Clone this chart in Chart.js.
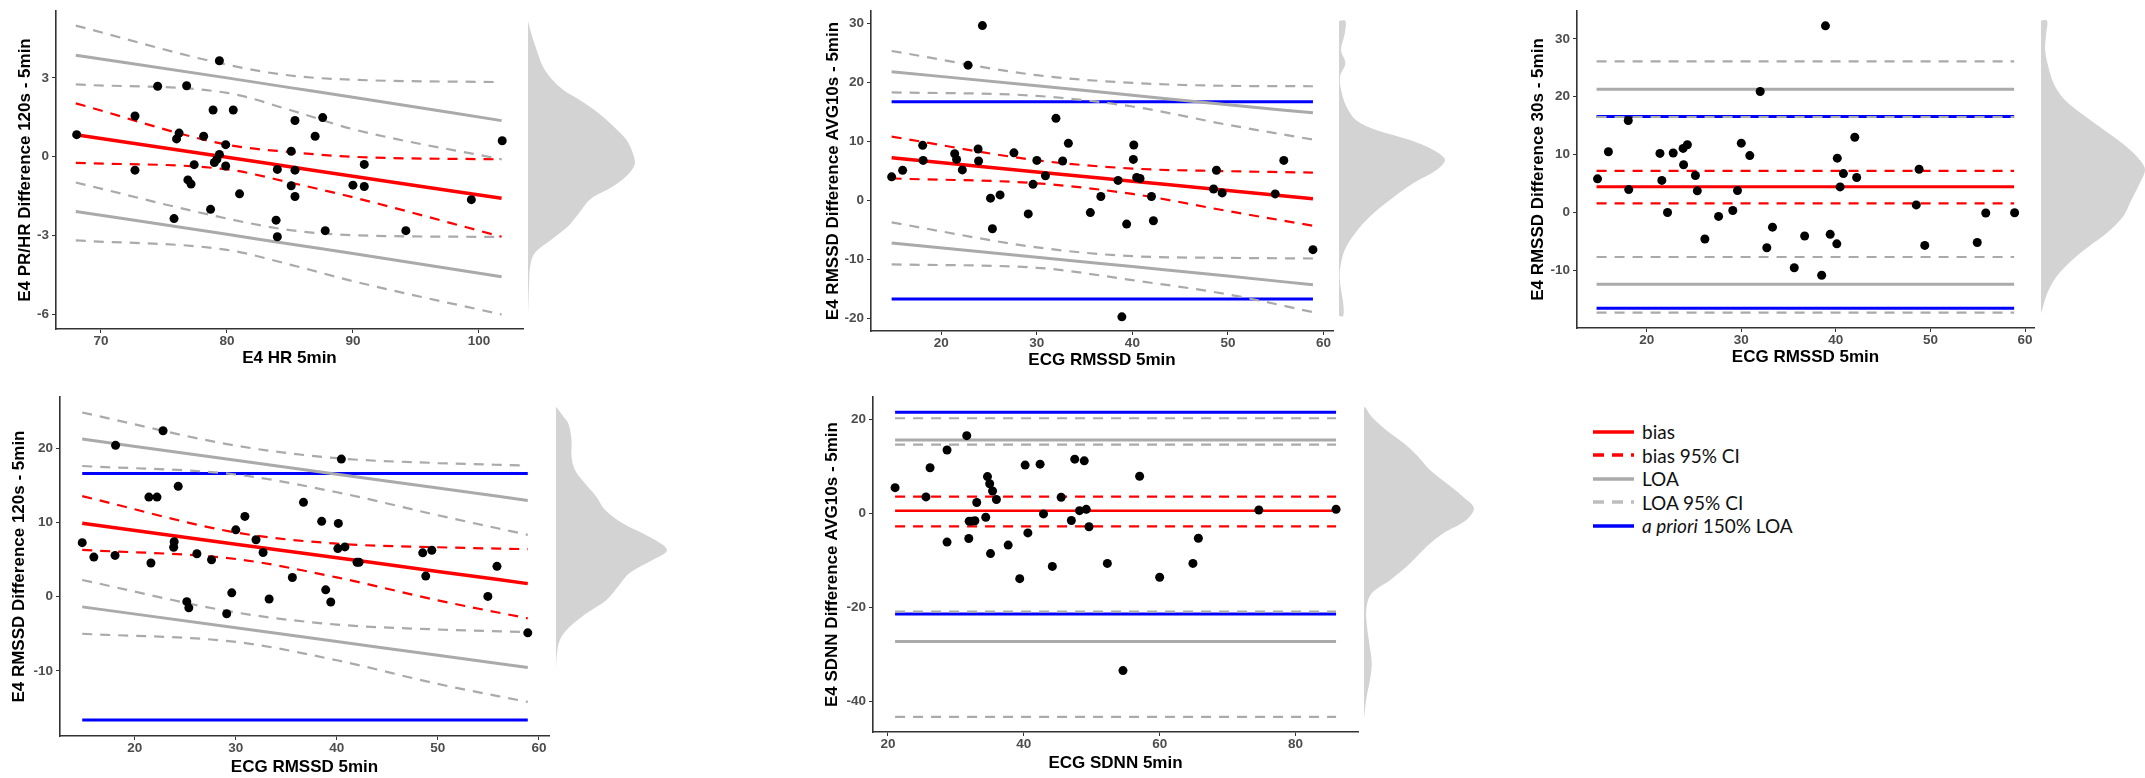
<!DOCTYPE html>
<html>
<head>
<meta charset="utf-8">
<script src="https://cdn.jsdelivr.net/npm/chart.js@4.4.1/dist/chart.umd.min.js"></script>
<style>
  html, body { margin: 0; padding: 0; background: #fff; }
  #fig { position: relative; width: 2145px; height: 778px; overflow: hidden; }
  #fig canvas { position: absolute; }
  #legend { position: absolute; left: 1593px; top: 420px; font-family: Lato, "Open Sans", sans-serif; font-size: 19px; color: #111; }
  #legend .row { display: flex; align-items: center; height: 23.5px; }
  #legend svg { width: 41px; height: 8px; margin-right: 8px; }
</style>
</head>
<body>
<div id="fig">
  <canvas id="p1" width="530" height="375" style="left:0px;top:0px"></canvas>
  <canvas id="d1" width="107" height="323" style="left:528px;top:6px"></canvas>
  <canvas id="p2" width="540" height="375" style="left:800px;top:0px"></canvas>
  <canvas id="d2" width="106" height="325" style="left:1339px;top:6px"></canvas>
  <canvas id="p3" width="540" height="375" style="left:1500px;top:0px"></canvas>
  <canvas id="d3" width="104" height="322" style="left:2041px;top:6px"></canvas>
  <canvas id="p4" width="556" height="392" style="left:0px;top:386px"></canvas>
  <canvas id="d4" width="111" height="344" style="left:556px;top:392px"></canvas>
  <canvas id="p5" width="565" height="392" style="left:800px;top:386px"></canvas>
  <canvas id="d5" width="110" height="340" style="left:1364px;top:392px"></canvas>

  <div id="legend">
    <div class="row"><svg><line x1="0" y1="4" x2="41" y2="4" stroke="#ff0000" stroke-width="3.5"/></svg><span>bias</span></div>
    <div class="row"><svg><line x1="0" y1="4" x2="41" y2="4" stroke="#ff0000" stroke-width="3.5" stroke-dasharray="11 8"/></svg><span>bias 95% CI</span></div>
    <div class="row"><svg><line x1="0" y1="4" x2="41" y2="4" stroke="#aaaaaa" stroke-width="3.5"/></svg><span>LOA</span></div>
    <div class="row"><svg><line x1="0" y1="4" x2="41" y2="4" stroke="#bdbdbd" stroke-width="3.5" stroke-dasharray="11 8"/></svg><span>LOA 95% CI</span></div>
    <div class="row"><svg><line x1="0" y1="4" x2="41" y2="4" stroke="#0000ff" stroke-width="3.5"/></svg><span><i>a priori</i> 150% LOA</span></div>
  </div>
</div>

<script>
// ---- Panel 1: E4 PR/HR vs HR ----
const hrX = [68.07, 72.7, 72.7, 74.5, 75.8, 76.0, 76.2, 76.8, 76.9, 77.15, 77.4, 78.15, 78.7, 78.9, 79.0, 79.2, 79.4, 79.4, 79.9, 79.9,
             80.5, 81.0, 83.9, 84.0, 84.0, 85.1, 85.1, 85.4, 85.4, 85.4, 87.0, 87.6, 87.8, 90.0, 90.9, 90.9, 94.2, 99.4, 101.85];
const hrDiff = [0.84, 1.55, -0.51, 2.68, -2.35, 0.68, 0.9, 2.7, -0.88, -1.04, -0.3, 0.78, -2.0, 1.78, -0.22, -0.1, 3.65, 0.09, 0.46, -0.35,
                1.78, -1.41, -2.41, -3.04, -0.48, 0.21, -1.1, 1.38, -0.51, -1.51, 0.78, 1.49, -2.81, -1.08, -0.29, -1.13, -2.81, -1.63, 0.61];
const hrLineX    = [68.0, 80, 85, 90, 101.8];
const hrBias     = [0.84, -0.02, -0.38, -0.74, -1.58];
const hrBiasHi   = [2.03, 0.46, 0.18, 0.0, -0.1];
const hrBiasLo   = [-0.23, -0.48, -0.98, -1.54, -3.04];
const hrLoaHi    = [3.86, 3.0, 2.63, 2.26, 1.375];
const hrLoaLo    = [-2.08, -2.95, -3.32, -3.68, -4.56];
const hrLoaHiHi  = [4.99, 3.5, 3.09, 2.93, 2.84];
const hrLoaHiLo  = [2.75, 2.43, 1.78, 1.05, -0.1];
const hrLoaLoHi  = [-0.98, -2.35, -2.79, -2.98, -3.05];
const hrLoaLoLo  = [-3.18, -3.54, -4.1, -4.73, -6.0];
const hrDensVal  = [4.98, 4.52, 3.9, 3.27, 2.77, 2.4, 2.03, 1.53, 1.03, 0.53, 0.03, -0.33, -0.7, -1.2, -1.7, -2.2, -2.7, -3.2, -3.72, -4.22, -4.85, -6.03];
const hrDensW    = [0, 0.03, 0.08, 0.14, 0.23, 0.33, 0.48, 0.66, 0.8, 0.92, 0.98, 1.0, 0.95, 0.8, 0.58, 0.48, 0.375, 0.22, 0.06, 0.02, 0.01, 0];

// ---- shared x for the three RMSSD panels ----
const ecgRmssd = [14.8, 15.95, 18.05, 18.1, 21.4, 21.6, 22.2, 22.8, 23.85, 23.9, 24.3, 25.15, 25.35, 26.15, 27.6, 29.1, 29.6, 30.0, 30.9, 32.0,
                  32.7, 33.3, 35.6, 36.7, 38.5, 38.9, 39.4, 40.1, 40.15, 40.45, 40.8, 42.0, 42.2, 48.5, 48.8, 49.4, 54.95, 55.85, 58.9];

// ---- Panel 2: RMSSD AVG10s ----
const avg10Diff = [4.0, 5.1, 9.33, 6.78, 7.9, 6.94, 5.17, 22.9, 8.7, 6.67, 29.6, 0.39, -4.8, 0.94, 8.06, -2.28, 2.72, 6.78, 4.17, 13.9,
                   6.67, 9.67, -2.06, 0.67, 3.39, -19.7, -4.0, 6.94, 9.39, 3.89, 3.72, 0.67, -3.44, 1.94, 5.11, 1.28, 1.11, 6.78, -8.33];
const rmLineX      = [14.8, 30, 40, 50, 58.9];
const avg10Bias    = [7.22, 4.83, 3.26, 1.69, 0.28];
const avg10BiasHi  = [10.8, 6.8, 5.4, 4.95, 4.72];
const avg10BiasLo  = [3.72, 2.9, 1.1, -1.8, -4.28];
const avg10LoaHi   = [21.8, 19.4, 17.8, 16.2, 14.83];
const avg10LoaLo   = [-7.22, -9.6, -11.2, -12.8, -14.28];
const avg10LoaHiHi = [25.3, 21.2, 19.9, 19.4, 19.33];
const avg10LoaHiLo = [18.3, 17.7, 15.9, 12.8, 10.3];
const avg10LoaLoHi = [-3.72, -7.94, -9.44, -9.72, -9.83];
const avg10LoaLoLo = [-10.83, -11.4, -13.5, -15.9, -18.9];
const avg10Apriori = [16.7, -16.7];
const avg10DensVal = [29.55, 27.5, 24.7, 22.5, 20.3, 18.05, 15.3, 13.05, 11.4, 9.72, 8.05, 6.38, 4.72, 2.5, -0.28, -3.06, -5.84, -8.6, -11.4, -13.05, -15.3, -17.5, -19.6];
const avg10DensW   = [0.06, 0.055, 0.02, 0.06, 0.01, 0.02, 0.07, 0.16, 0.35, 0.67, 0.89, 1.0, 0.92, 0.7, 0.48, 0.29, 0.15, 0.054, 0.013, 0.006, 0.02, 0.04, 0.04];

// ---- Panel 3: RMSSD 30s ----
const s30Diff = [5.81, 10.5, 15.9, 3.95, 10.2, 5.54, 0.0, 10.28, 11.07, 8.25, 11.7, 6.38, 3.73, -4.58, -0.68, 0.34, 3.78, 11.98, 9.83, 20.9,
                 -6.1, -2.54, -9.55, -4.07, -10.85, 32.25, -3.78, -5.42, 9.38, 4.41, 6.72, 13.0, 6.05, 1.3, 7.46, -5.7, -5.2, -0.1, -0.06];
const s30LineX   = [14.7, 58.85];
const s30Bias    = 4.46;
const s30BiasCI  = [7.17, 1.58];
const s30Loa     = [21.3, -12.4];
const s30LoaCI   = [26.1, 16.5, -7.7, -17.3];
const s30Apriori = [16.6, -16.55];
const s30DensVal = [32.3, 30.2, 27.35, 24.5, 21.7, 19.4, 17.7, 15.45, 13.17, 10.9, 8.6, 6.93, 4.66, 1.83, -1.0, -3.85, -6.1, -8.4, -11.2, -14.06, -16.3, -17.46];
const s30DensW   = [0.058, 0.05, 0.04, 0.07, 0.12, 0.2, 0.3, 0.47, 0.65, 0.82, 0.95, 1.0, 0.95, 0.87, 0.79, 0.63, 0.46, 0.3, 0.15, 0.06, 0.02, 0];

// ---- Panel 4: RMSSD 120s ----
const s120Diff = [7.3, 5.35, 5.58, 20.44, 13.45, 4.56, 13.45, 22.4, 6.68, 7.43, 14.9, -0.66, -1.5, 5.8, 5.0, -2.3, 0.53, 9.03, 10.84, 7.7,
                  5.97, -0.31, 2.6, 12.74, 10.18, 0.93, -0.71, 6.5, 9.9, 18.58, 6.73, 4.65, 4.65, 5.93, 2.79, 6.28, 0.04, 4.1, -4.87];
const s120Bias    = [9.91, 7.1, 5.26, 3.42, 1.77];
const s120BiasHi  = [13.58, 8.67, 7.17, 6.68, 6.42];
const s120BiasLo  = [6.33, 5.09, 2.61, -0.49, -2.92];
const s120LoaHi   = [21.28, 18.43, 16.55, 14.67, 13.0];
const s120LoaLo   = [-1.37, -4.19, -6.05, -7.9, -9.56];
const s120LoaHiHi = [24.87, 20.4, 18.7, 18.05, 17.7];
const s120LoaHiLo = [17.65, 16.5, 14.1, 11.0, 8.36];
const s120LoaLoHi = [2.26, -2.12, -3.76, -4.42, -4.78];
const s120LoaLoLo = [-5.0, -6.1, -8.58, -11.77, -14.2];
const s120Apriori = [16.65, -16.65];
const s120DensVal = [24.9, 23.7, 22.8, 20.6, 18.4, 16.6, 14.8, 13.0, 11.3, 9.5, 7.7, 5.94, 4.6, 2.84, 1.07, -0.7, -2.47, -4.25, -6.0, -8.24, -10.9, -16.65];
const s120DensW   = [0.006, 0.066, 0.11, 0.14, 0.14, 0.17, 0.26, 0.365, 0.44, 0.6, 0.84, 1.0, 0.87, 0.66, 0.56, 0.455, 0.275, 0.126, 0.036, 0.006, 0, 0];

// ---- Panel 5: SDNN AVG10s ----
const sdnnX = [21.05, 25.6, 26.2, 28.7, 28.7, 31.6, 31.9, 31.96, 32.35, 32.8, 33.07, 34.4, 34.65, 34.98, 35.1, 35.4, 35.97, 37.7, 39.4, 40.2,
               40.6, 42.4, 42.9, 44.2, 45.5, 47.0, 47.5, 48.2, 48.9, 49.2, 49.6, 52.3, 54.6, 57.05, 60.0, 64.9, 65.7, 74.6, 85.97];
const sdnnDiff = [5.44, 3.48, 9.69, 13.45, -6.13, 16.5, -5.37, -1.67, -1.67, -1.6, 2.3, -0.84, 7.8, 6.27, -8.57, 4.74, 2.93, -6.76, -13.9, 10.24,
                  -4.18, 10.45, -0.14, -11.3, 3.41, -1.53, 11.5, 0.56, 11.15, 0.84, -2.86, -10.66, -33.45, 7.87, -13.6, -10.66, -5.3, 0.7, 0.84];
const sdnnLineX   = [21.05, 85.97];
const sdnnBias    = 0.56;
const sdnnBiasCI  = [3.55, -2.79];
const sdnnLoa     = [15.6, -27.25];
const sdnnLoaCI   = [20.2, 14.6, -20.9, -43.3];
const sdnnApriori = [21.5, -21.4];
const sdnnDensVal = [21.5, 19.5, 16.76, 14.0, 11.2, 8.38, 5.59, 2.79, 0.35, -2.09, -4.89, -7.68, -11.17, -14.66, -17.45, -20.24, -23.7, -27.9, -32.1, -35.6, -39.1, -43.5];
const sdnnDensW   = [0.01, 0.07, 0.2, 0.36, 0.49, 0.6, 0.75, 0.9, 1.0, 0.93, 0.72, 0.57, 0.42, 0.24, 0.07, 0.024, 0.024, 0.048, 0.07, 0.054, 0.024, 0];

// colours
const RED = '#ff0000', GREY = '#aaaaaa', BLUE = '#0000ff';
const DASH = [10, 8];
const FONT = '"Liberation Sans", Arial, sans-serif';

function pts(xs, ys) {
    return xs.map((x, i) => ({ x: x, y: ys[i] }));
}

function lineSet(xs, ys, color, width, dash) {
    return {
        data: pts(xs, ys),
        showLine: true,
        borderColor: color,
        borderWidth: width,
        borderDash: dash || [],
        pointRadius: 0,
        cubicInterpolationMode: 'monotone',
        fill: false
    };
}

function hline(xs, v, color, width, dash) {
    return lineSet(xs, [v, v], color, width, dash);
}

function pointSet(xs, ys) {
    return {
        data: pts(xs, ys),
        pointRadius: 4.5,
        pointBackgroundColor: '#000',
        pointBorderWidth: 0,
        showLine: false
    };
}

// one scatter panel, box sizes fixed so the plot area lands where the original has it
function makePanel(id, p) {
    new Chart(document.getElementById(id), {
        type: 'scatter',
        data: { datasets: p.datasets },
        options: {
            responsive: false,
            animation: false,
            devicePixelRatio: 1,
            layout: { padding: { top: p.padTop, right: p.padRight, left: 0, bottom: 0 } },
            plugins: { legend: { display: false }, tooltip: { enabled: false } },
            scales: {
                x: {
                    min: p.xMin, max: p.xMax,
                    afterFit: s => { s.height = p.xAxisH; },
                    afterBuildTicks: s => { s.ticks = p.xTicks.map(v => ({ value: v })); },
                    grid: { display: true, drawOnChartArea: false, drawTicks: true, tickLength: 4, color: '#333', lineWidth: 1 },
                    border: { display: true, color: '#333', width: 1.6 },
                    ticks: { padding: 0, autoSkip: false, maxRotation: 0, color: '#4d4d4d', font: { family: FONT, size: 13.5, weight: 'bold' }, callback: v => String(v) },
                    title: { display: true, text: p.xTitle, color: '#000', padding: { top: 0, bottom: p.xTitlePad }, font: { family: FONT, size: 17, weight: 'bold' } }
                },
                y: {
                    min: p.yMin, max: p.yMax,
                    afterFit: s => { s.width = p.yAxisW; },
                    afterBuildTicks: s => { s.ticks = p.yTicks.map(v => ({ value: v })); },
                    grid: { display: true, drawOnChartArea: false, drawTicks: true, tickLength: 4, color: '#333', lineWidth: 1 },
                    border: { display: true, color: '#333', width: 1.6 },
                    ticks: { padding: 3, autoSkip: false, color: '#4d4d4d', font: { family: FONT, size: 13.5, weight: 'bold' }, callback: v => String(v) },
                    title: { display: true, text: p.yTitle, color: '#000', padding: { top: p.yTitlePad, bottom: 0 }, font: { family: FONT, size: 17, weight: 'bold' } }
                }
            }
        }
    });
}

// marginal density, drawn as a closed shape on its own canvas with the panel's y range
function makeDensity(id, vals, ws, yMin, yMax) {
    const shape = [{ x: 0, y: vals[0] }]
        .concat(vals.map((v, i) => ({ x: ws[i], y: v })))
        .concat([{ x: 0, y: vals[vals.length - 1] }]);
    new Chart(document.getElementById(id), {
        type: 'scatter',
        data: {
            datasets: [{
                data: shape,
                showLine: true,
                fill: 'shape',
                backgroundColor: '#d3d3d3',
                borderColor: '#d3d3d3',
                borderWidth: 0,
                pointRadius: 0,
                tension: 0.35
            }]
        },
        options: {
            responsive: false,
            animation: false,
            devicePixelRatio: 1,
            layout: { padding: 0 },
            plugins: { legend: { display: false }, tooltip: { enabled: false } },
            scales: {
                x: { display: false, min: 0, max: 1 },
                y: { display: false, min: yMin, max: yMax }
            }
        }
    });
}

// regression-based Bland-Altman lines
function slopedLines(xs, bias, bHi, bLo, lHi, lLo, lHiHi, lHiLo, lLoHi, lLoLo, biasW) {
    return [
        lineSet(xs, bias, RED, biasW),
        lineSet(xs, bHi, RED, 2.2, DASH),
        lineSet(xs, bLo, RED, 2.2, DASH),
        lineSet(xs, lHi, GREY, 3),
        lineSet(xs, lLo, GREY, 3),
        lineSet(xs, lHiHi, GREY, 2.2, DASH),
        lineSet(xs, lHiLo, GREY, 2.2, DASH),
        lineSet(xs, lLoHi, GREY, 2.2, DASH),
        lineSet(xs, lLoLo, GREY, 2.2, DASH)
    ];
}

function flatLines(xs, bias, biasCI, loa, loaCI, biasW) {
    return [
        hline(xs, bias, RED, biasW),
        hline(xs, biasCI[0], RED, 2.2, DASH),
        hline(xs, biasCI[1], RED, 2.2, DASH),
        hline(xs, loa[0], GREY, 3),
        hline(xs, loa[1], GREY, 3),
        hline(xs, loaCI[0], GREY, 2.2, DASH),
        hline(xs, loaCI[1], GREY, 2.2, DASH),
        hline(xs, loaCI[2], GREY, 2.2, DASH),
        hline(xs, loaCI[3], GREY, 2.2, DASH)
    ];
}

function aprioriLines(xs, lim) {
    return [hline(xs, lim[0], BLUE, 3), hline(xs, lim[1], BLUE, 3)];
}

// Panel 1
makePanel('p1', {
    datasets: [pointSet(hrX, hrDiff)].concat(
        slopedLines(hrLineX, hrBias, hrBiasHi, hrBiasLo, hrLoaHi, hrLoaLo, hrLoaHiHi, hrLoaHiLo, hrLoaLoHi, hrLoaLoLo, 3.5)),
    xMin: 66.43, xMax: 103.5, yMin: -6.55, yMax: 5.54,
    xTicks: [70, 80, 90, 100], yTicks: [-6, -3, 0, 3],
    xTitle: 'E4 HR 5min', yTitle: 'E4 PR/HR Difference 120s - 5min',
    padTop: 6, padRight: 7, yAxisW: 56, xAxisH: 46, yTitlePad: 14.8, xTitlePad: 6.8
});
makeDensity('d1', hrDensVal, hrDensW, -6.55, 5.54);

// Panel 2
makePanel('p2', {
    datasets: [pointSet(ecgRmssd, avg10Diff)].concat(
        slopedLines(rmLineX, avg10Bias, avg10BiasHi, avg10BiasLo, avg10LoaHi, avg10LoaLo, avg10LoaHiHi, avg10LoaHiLo, avg10LoaLoHi, avg10LoaLoLo, 3.5),
        aprioriLines([14.8, 58.9], avg10Apriori)),
    xMin: 12.64, xMax: 61.0, yMin: -22.1, yMax: 32.05,
    xTicks: [20, 30, 40, 50, 60], yTicks: [-20, -10, 0, 10, 20, 30],
    xTitle: 'ECG RMSSD 5min', yTitle: 'E4 RMSSD Difference AVG10s - 5min',
    padTop: 6, padRight: 7, yAxisW: 71, xAxisH: 44, yTitlePad: 22.8, xTitlePad: 4.8
});
makeDensity('d2', avg10DensVal, avg10DensW, -22.1, 32.05);

// Panel 3
makePanel('p3', {
    datasets: [pointSet(ecgRmssd, s30Diff)].concat(
        flatLines(s30LineX, s30Bias, s30BiasCI, s30Loa, s30LoaCI, 3),
        aprioriLines(s30LineX, s30Apriori)),
    xMin: 12.63, xMax: 60.95, yMin: -19.97, yMax: 34.8,
    xTicks: [20, 30, 40, 50, 60], yTicks: [-10, 0, 10, 20, 30],
    xTitle: 'ECG RMSSD 5min', yTitle: 'E4 RMSSD Difference 30s - 5min',
    padTop: 6, padRight: 6, yAxisW: 77, xAxisH: 47, yTitlePad: 27.8, xTitlePad: 7.8
});
makeDensity('d3', s30DensVal, s30DensW, -19.97, 34.8);

// Panel 4
makePanel('p4', {
    datasets: [pointSet(ecgRmssd, s120Diff)].concat(
        slopedLines(rmLineX, s120Bias, s120BiasHi, s120BiasLo, s120LoaHi, s120LoaLo, s120LoaHiHi, s120LoaHiLo, s120LoaLoHi, s120LoaLoLo, 3.5),
        aprioriLines([14.8, 58.9], s120Apriori)),
    xMin: 12.6, xMax: 61.0, yMin: -18.8, yMax: 26.95,
    xTicks: [20, 30, 40, 50, 60], yTicks: [-10, 0, 10, 20],
    xTitle: 'ECG RMSSD 5min', yTitle: 'E4 RMSSD Difference 120s - 5min',
    padTop: 6, padRight: 7, yAxisW: 60, xAxisH: 42, yTitlePad: 8.8, xTitlePad: 0.8
});
makeDensity('d4', s120DensVal, s120DensW, -18.8, 26.95);

// Panel 5
makePanel('p5', {
    datasets: [pointSet(sdnnX, sdnnDiff)].concat(
        flatLines(sdnnLineX, sdnnBias, sdnnBiasCI, sdnnLoa, sdnnLoaCI, 2.5),
        aprioriLines(sdnnLineX, sdnnApriori)),
    xMin: 17.8, xMax: 89.2, yMin: -46.5, yMax: 24.7,
    xTicks: [20, 40, 60, 80], yTicks: [-40, -20, 0, 20],
    xTitle: 'ECG SDNN 5min', yTitle: 'E4 SDNN Difference AVG10s - 5min',
    padTop: 6, padRight: 7, yAxisW: 73, xAxisH: 46, yTitlePad: 21.8, xTitlePad: 4.8
});
makeDensity('d5', sdnnDensVal, sdnnDensW, -46.5, 24.7);
</script>
</body>
</html>
